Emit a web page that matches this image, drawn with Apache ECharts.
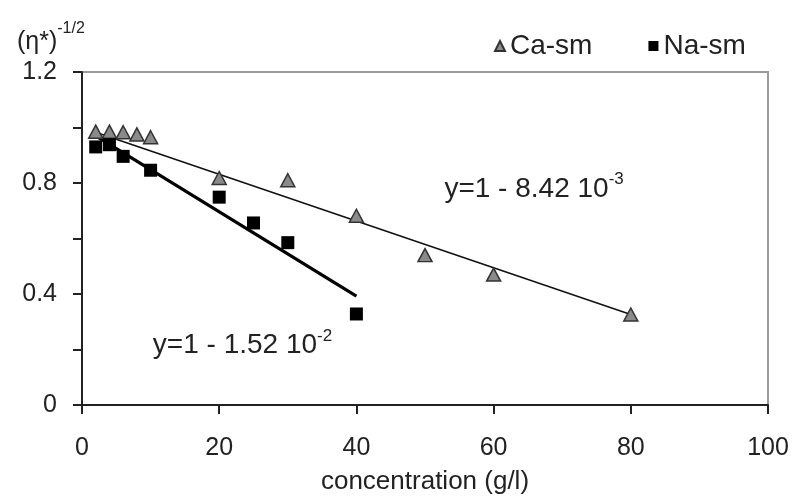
<!DOCTYPE html>
<html>
<head>
<meta charset="utf-8">
<script src="https://cdn.jsdelivr.net/npm/echarts@6/dist/echarts.min.js"></script>
<style>
html,body{margin:0;padding:0;background:#fff;}
#c{width:795px;height:496px;}
</style>
</head>
<body>
<div id="c"></div>
<script>
// Data
var caX = [2, 4, 6, 8, 10, 20, 30, 40, 50, 60, 80];
var caY = [0.985, 0.985, 0.983, 0.975, 0.965, 0.818, 0.81, 0.682, 0.54, 0.47, 0.326];
var naX = [2, 4, 6, 10, 20, 25, 30, 40];
var naY = [0.93, 0.938, 0.896, 0.846, 0.749, 0.656, 0.585, 0.328];
// Fitted lines (end points)
var caFitX = [2, 80];
var caFitY = [0.983, 0.326];
var naFitX = [2, 40];
var naFitY = [0.97, 0.392];
var xTicks = [0, 20, 40, 60, 80, 100];
var yTickLabels = ['0', '0.4', '0.8', '1.2'];
var caEqPos = [65.9, 0.786];
var naEqPos = [23.4, 0.222];

function pairs(xs, ys){ return xs.map(function(x,i){ return [x, ys[i]]; }); }

var FONT = 'Liberation Sans, Arial, sans-serif';
var TXT = '#222';

function eqLabel(txt, sup){
  return {
    show: true, position: 'inside',
    formatter: '{a|' + txt + '}{b|' + sup + '}',
    rich: {
      a: {fontSize: 28, fontFamily: FONT, color: TXT, verticalAlign: 'bottom', lineHeight: 32},
      b: {fontSize: 17, fontFamily: FONT, color: TXT, verticalAlign: 'top', lineHeight: 32, padding:[0,0,13,0]}
    }
  };
}

var chart = echarts.init(document.getElementById('c'), null, {renderer:'canvas'});
chart.setOption({
  animation: false,
  backgroundColor: '#fff',
  title: {
    left: 12, top: 16,
    text: '{a|(η*)}{b|-1/2}',
    textStyle: {
      fontWeight: 'normal',
      rich: {
        a: {fontSize: 25, fontFamily: FONT, color: TXT, fontWeight: 'normal', verticalAlign: 'bottom', lineHeight: 34},
        b: {fontSize: 16, fontFamily: FONT, color: TXT, fontWeight: 'normal', verticalAlign: 'top', lineHeight: 34, padding:[0,0,14,0]}
      }
    }
  },
  legend: {
    left: 489, top: 27,
    itemWidth: 10, itemHeight: 10, itemGap: 56,
    textStyle: {fontSize: 28, fontFamily: FONT, color: TXT},
    data: [
      {name: 'Ca-sm', icon: 'triangle'},
      {name: 'Na-sm', icon: 'rect'}
    ]
  },
  grid: {
    left: 82, right: 27, top: 72, bottom: 91,
    outerBoundsMode: 'none', containLabel: false,
    show: true, borderColor: '#9a9a9a', borderWidth: 2, backgroundColor: '#fff'
  },
  xAxis: {
    type: 'value', min: xTicks[0], max: xTicks[xTicks.length-1], interval: 20,
    name: 'concentration (g/l)', nameLocation: 'middle', nameGap: 64,
    nameTextStyle: {fontSize: 26, fontFamily: FONT, color: TXT},
    axisLine: {show: true, onZero: false, lineStyle: {color: '#222', width: 2}},
    axisTick: {show: true, inside: false, length: 9, lineStyle: {color: '#222', width: 2}},
    axisLabel: {fontSize: 25, fontFamily: FONT, color: TXT, margin: 31},
    splitLine: {show: false}
  },
  yAxis: {
    type: 'value', min: 0, max: 1.2, interval: 0.2,
    axisLine: {show: true, onZero: false, lineStyle: {color: '#222', width: 2}},
    axisTick: {show: true, inside: false, length: 9, lineStyle: {color: '#222', width: 2}},
    axisLabel: {
      fontSize: 25, fontFamily: FONT, color: TXT, margin: 25,
      formatter: function(v){
        var s = (Math.round(v*10)/10).toString();
        return yTickLabels.indexOf(s) >= 0 ? s : '';
      }
    },
    splitLine: {show: false}
  },
  series: [
    {
      name: 'Ca-fit', type: 'line', data: pairs(caFitX, caFitY),
      symbol: 'none', lineStyle: {color: '#111', width: 1.6}, z: 2, silent: true,
      markPoint: {
        symbol: 'circle', symbolSize: 0,
        label: eqLabel('y=1 - 8.42 10', '-3'),
        data: [{coord: caEqPos, value: 0}]
      }
    },
    {
      name: 'Na-fit', type: 'line', data: pairs(naFitX, naFitY),
      symbol: 'none', lineStyle: {color: '#000', width: 3.2}, z: 2, silent: true,
      markPoint: {
        symbol: 'circle', symbolSize: 0,
        label: eqLabel('y=1 - 1.52 10', '-2'),
        data: [{coord: naEqPos, value: 0}]
      }
    },
    {
      name: 'Ca-sm', type: 'scatter', data: pairs(caX, caY),
      symbol: 'triangle', symbolSize: [14, 13],
      itemStyle: {color: '#8a8a8a', borderColor: '#333', borderWidth: 1.5, opacity: 1}, z: 3
    },
    {
      name: 'Na-sm', type: 'scatter', data: pairs(naX, naY),
      symbol: 'rect', symbolSize: 13,
      itemStyle: {color: '#000', opacity: 1}, z: 3
    }
  ]
});
</script>
</body>
</html>
